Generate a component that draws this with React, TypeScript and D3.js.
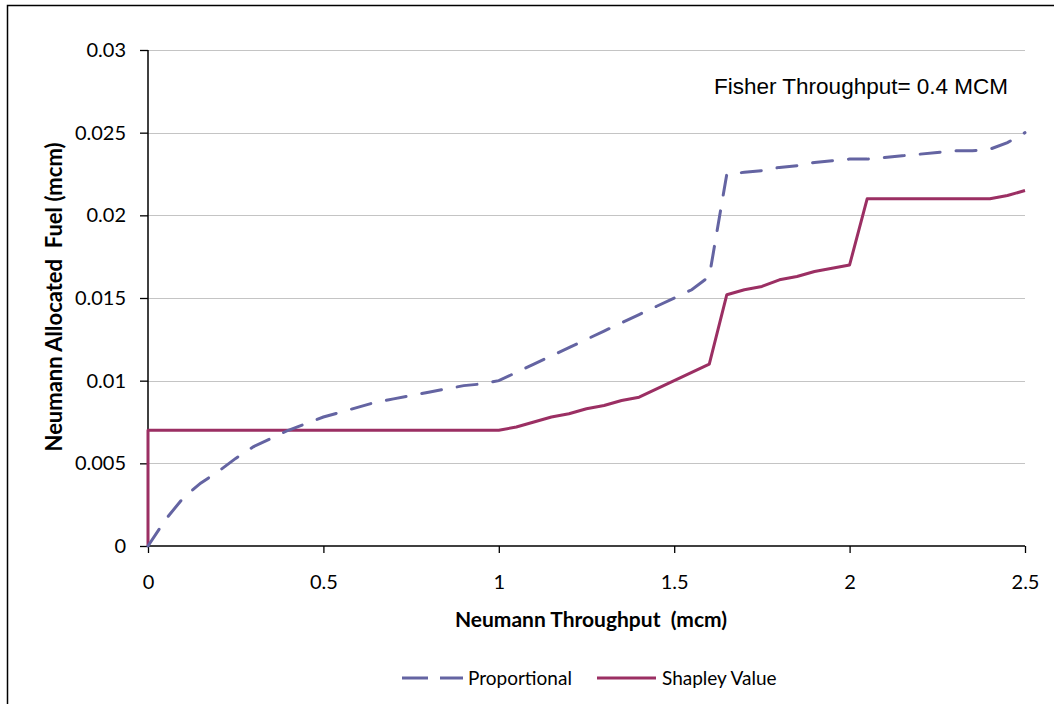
import { useRef, useEffect } from 'react';
import * as d3 from 'd3';

// Neumann throughput (mcm) sample points
const proportionalX = [
  0, 0.05, 0.1, 0.15, 0.2, 0.25, 0.3, 0.35, 0.4, 0.45, 0.5, 0.55, 0.6, 0.65, 0.7, 0.75, 0.8, 0.85, 0.9, 0.95,
  1.0, 1.05, 1.1, 1.15, 1.2, 1.25, 1.3, 1.35, 1.4, 1.45, 1.5, 1.55, 1.6, 1.65, 1.7, 1.75, 1.8, 1.85, 1.9, 1.95,
  2.0, 2.05, 2.1, 2.15, 2.2, 2.25, 2.3, 2.35, 2.4, 2.45, 2.5,
];
const proportionalY = [
  0, 0.0016, 0.0029, 0.0038, 0.0045, 0.0053, 0.006, 0.0065, 0.007, 0.0074, 0.0078, 0.0081, 0.0084, 0.0087, 0.0089,
  0.0091, 0.0093, 0.0095, 0.0097, 0.0098, 0.01, 0.0105, 0.011, 0.0115, 0.012, 0.0125, 0.013, 0.0135, 0.014, 0.0145,
  0.015, 0.0155, 0.0163, 0.0225, 0.0226, 0.0227, 0.0229, 0.023, 0.0232, 0.0233, 0.0234, 0.0234, 0.0235, 0.0236,
  0.0237, 0.0238, 0.0239, 0.0239, 0.024, 0.0244, 0.025,
];

const shapleyX = [
  0, 0, 1.0, 1.05, 1.1, 1.15, 1.2, 1.25, 1.3, 1.35, 1.4, 1.45, 1.5, 1.55, 1.6, 1.65, 1.7, 1.75, 1.8, 1.85, 1.9,
  1.95, 2.0, 2.05, 2.4, 2.45, 2.5,
];
const shapleyY = [
  0, 0.007, 0.007, 0.0072, 0.0075, 0.0078, 0.008, 0.0083, 0.0085, 0.0088, 0.009, 0.0095, 0.01, 0.0105, 0.011,
  0.0152, 0.0155, 0.0157, 0.0161, 0.0163, 0.0166, 0.0168, 0.017, 0.021, 0.021, 0.0212, 0.0215,
];

const xTicks = [0, 0.5, 1, 1.5, 2, 2.5];
const yTicks = [0, 0.005, 0.01, 0.015, 0.02, 0.025, 0.03];

const W = 1054;
const H = 704;
const calibri = 'Lato, "Open Sans", sans-serif';
const arial = '"Liberation Sans", Arial, sans-serif';
const propColor = '#6464a2';
const shapColor = '#9b2f63';

export default function App() {
  const svgRef = useRef<SVGSVGElement>(null);

  useEffect(() => {
    if (!svgRef.current) return;
    const svg = d3.select(svgRef.current);
    svg.selectAll('*').remove();

    const left = 148, right = 1025, top = 50, bottom = 546;
    const x = d3.scaleLinear().domain([0, 2.5]).range([left, right]);
    const y = d3.scaleLinear().domain([0, 0.03]).range([bottom, top]);

    // outer chart border (only left/top visible in frame)
    svg.append('rect')
      .attr('x', 7.5).attr('y', 5.5)
      .attr('width', W + 20).attr('height', H + 20)
      .attr('fill', 'white').attr('stroke', '#000').attr('stroke-width', 1.5);

    // gridlines
    svg.append('g').selectAll('line')
      .data(yTicks.filter((d) => d > 0))
      .enter().append('line')
      .attr('x1', left).attr('x2', right)
      .attr('y1', (d) => Math.round(y(d)) + 0.5).attr('y2', (d) => Math.round(y(d)) + 0.5)
      .attr('stroke', '#c4c4c4').attr('stroke-width', 1.2);

    const yAxis = svg.append('g')
      .attr('transform', `translate(${left},0)`)
      .call(d3.axisLeft(y).tickValues(yTicks).tickSize(8).tickPadding(14).tickFormat((d) => String(+d)));
    yAxis.select('.domain').attr('stroke', '#000').attr('stroke-width', 1.5).attr('d', `M0,${top}V${bottom}`);
    yAxis.selectAll('.tick line').attr('stroke', '#000').attr('stroke-width', 1.3);
    yAxis.selectAll('text').attr('fill', '#000').style('font-family', calibri).style('font-size', '20px');

    const xAxis = svg.append('g')
      .attr('transform', `translate(0,${bottom})`)
      .call(d3.axisBottom(x).tickValues(xTicks).tickSize(7).tickPadding(22).tickFormat((d) => String(+d)));
    xAxis.select('.domain').attr('stroke', '#000').attr('stroke-width', 1.5).attr('d', `M${left},0H${right}`);
    xAxis.selectAll('.tick line').attr('stroke', '#000').attr('stroke-width', 1.3);
    xAxis.selectAll('text').attr('fill', '#000').style('font-family', calibri).style('font-size', '20px');

    // series
    const line = d3.line<[number, number]>().x((d) => x(d[0])).y((d) => y(d[1]));
    const propData = proportionalX.map((v, i) => [v, proportionalY[i]] as [number, number]);
    const shapData = shapleyX.map((v, i) => [v, shapleyY[i]] as [number, number]);

    svg.append('path').datum(shapData)
      .attr('d', line).attr('fill', 'none')
      .attr('stroke', shapColor).attr('stroke-width', 3).attr('stroke-linejoin', 'round');
    svg.append('path').datum(propData)
      .attr('d', line).attr('fill', 'none')
      .attr('stroke', propColor).attr('stroke-width', 3)
      .attr('stroke-dasharray', '20 16').attr('stroke-linecap', 'round');

    // axis titles
    svg.append('text')
      .attr('x', 591).attr('y', 627)
      .attr('text-anchor', 'middle').style('font-family', calibri)
      .style('font-size', '21px').style('font-weight', 'bold').style('white-space', 'pre')
      .text('Neumann Throughput  (mcm)');
    svg.append('text')
      .attr('transform', `translate(62,297) rotate(-90)`)
      .attr('text-anchor', 'middle').style('font-family', calibri)
      .style('font-size', '22px').style('font-weight', 'bold').style('white-space', 'pre')
      .text('Neumann Allocated  Fuel (mcm)');

    // annotation
    svg.append('text')
      .attr('x', 714).attr('y', 94)
      .style('font-family', arial).style('font-size', '22.5px')
      .text('Fisher Throughput= 0.4 MCM');

    // legend
    const lg = svg.append('g').attr('transform', 'translate(0,678)');
    lg.append('line').attr('x1', 402).attr('x2', 463).attr('y1', 0).attr('y2', 0)
      .attr('stroke', propColor).attr('stroke-width', 3).attr('stroke-dasharray', '26 12');
    lg.append('text').attr('x', 468).attr('y', 6.5)
      .style('font-family', calibri).style('font-size', '19px').text('Proportional');
    lg.append('line').attr('x1', 597).attr('x2', 656).attr('y1', 0).attr('y2', 0)
      .attr('stroke', shapColor).attr('stroke-width', 3);
    lg.append('text').attr('x', 662).attr('y', 6.5)
      .style('font-family', calibri).style('font-size', '19px').text('Shapley Value');
  }, []);

  return (
    <div style={{ position: 'absolute', left: 0, top: 0, width: W, height: H, overflow: 'hidden', background: 'white' }}>
      <svg ref={svgRef} width={W} height={H} style={{ display: 'block' }} />
    </div>
  );
}
